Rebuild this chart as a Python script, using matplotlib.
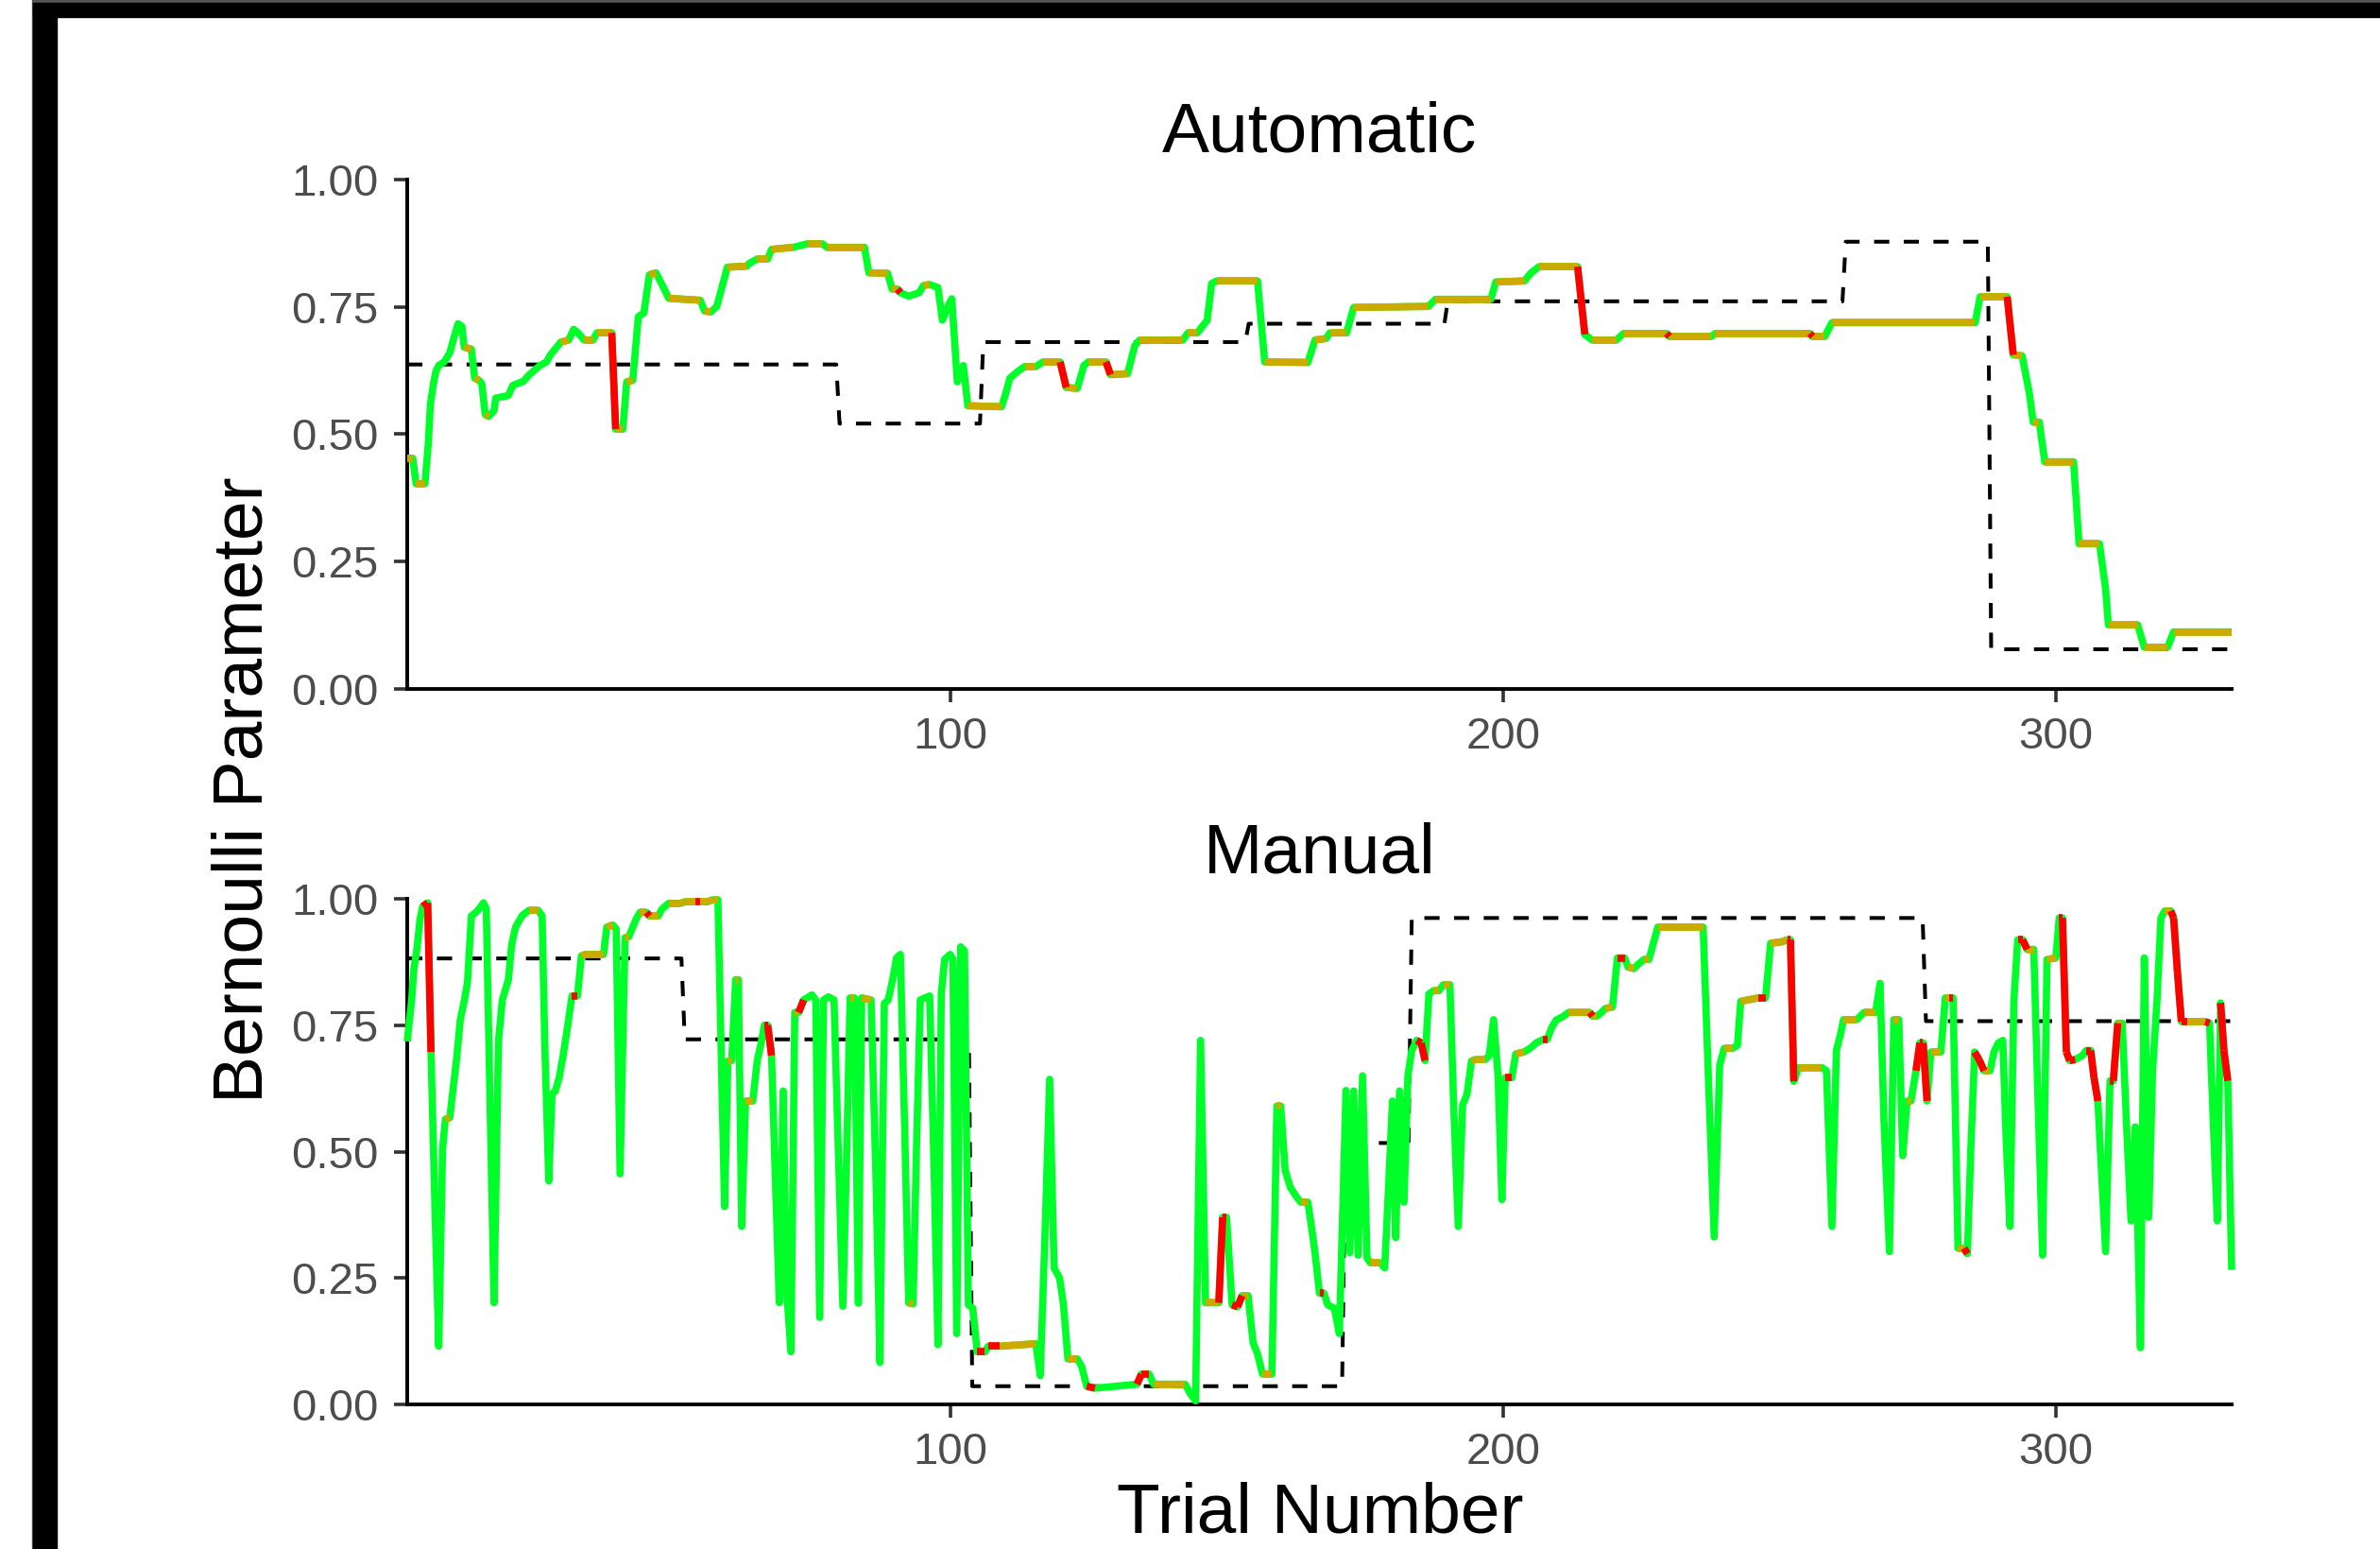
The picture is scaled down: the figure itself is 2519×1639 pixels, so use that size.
import matplotlib
matplotlib.use("Agg")
import matplotlib.pyplot as plt
import numpy as np
from matplotlib.collections import LineCollection
from matplotlib.patches import Rectangle

plt.rcParams['font.family'] = ['Liberation Sans', 'DejaVu Sans']

# running estimate of the Bernoulli parameter, (trial, value) knots
auto_estimate = [
    (1.8, 0.453), (2.8, 0.453), (3.4, 0.403), (5.0, 0.403), (5.6, 0.48), (6.0, 0.56),
    (6.6, 0.603), (7.0, 0.624), (7.5, 0.635), (8.5, 0.642), (9.5, 0.660), (10.2, 0.688),
    (11.0, 0.717), (11.7, 0.712), (12.1, 0.671), (13.4, 0.667), (14.0, 0.610), (14.8, 0.606),
    (15.3, 0.599), (15.9, 0.539), (16.5, 0.535), (17.5, 0.546), (17.8, 0.571), (20.1, 0.576),
    (20.9, 0.596), (22.8, 0.604), (23.9, 0.617), (25.8, 0.635), (27.0, 0.642), (27.7, 0.656),
    (29.6, 0.681), (31.0, 0.685), (31.9, 0.706), (32.7, 0.699), (33.8, 0.685), (35.4, 0.685),
    (36.1, 0.699), (38.8, 0.699), (39.5, 0.510), (40.8, 0.510), (41.5, 0.603), (42.6, 0.606),
    (43.6, 0.731), (44.6, 0.738), (45.6, 0.813), (46.8, 0.817), (48.3, 0.785), (49.1, 0.767),
    (54.8, 0.763), (55.6, 0.742), (56.7, 0.740), (57.8, 0.751), (59.7, 0.828), (63.2, 0.830),
    (63.6, 0.835), (65.1, 0.844), (67.0, 0.844), (67.7, 0.863), (71.6, 0.867), (74.2, 0.874),
    (76.9, 0.874), (77.7, 0.867), (84.5, 0.867), (85.3, 0.817), (88.7, 0.816), (89.5, 0.785),
    (90.5, 0.785), (91.0, 0.778), (92.5, 0.771), (94.4, 0.778), (95.2, 0.792), (96.3, 0.794),
    (97.8, 0.788), (98.6, 0.724), (99.8, 0.756), (100.3, 0.766), (101.3, 0.603), (102.4, 0.635),
    (103.2, 0.556), (109.3, 0.554), (110.0, 0.578), (110.8, 0.610), (112.3, 0.624), (113.5, 0.633),
    (115.5, 0.633), (116.8, 0.642), (119.9, 0.642), (121.0, 0.592), (123.0, 0.590), (124.2, 0.635),
    (125.0, 0.642), (128.2, 0.642), (129.0, 0.617), (132.1, 0.619), (133.4, 0.674), (134.3, 0.685),
    (142.1, 0.685), (143.0, 0.699), (144.7, 0.699), (145.5, 0.710), (146.5, 0.724), (147.3, 0.796),
    (148.2, 0.801), (155.6, 0.801), (156.9, 0.642), (164.7, 0.641), (166.0, 0.685), (168.0, 0.688),
    (168.7, 0.699), (171.7, 0.699), (173.0, 0.749), (186.5, 0.751), (187.8, 0.765), (197.8, 0.765),
    (198.7, 0.799), (203.9, 0.801), (205.0, 0.816), (206.5, 0.829), (213.5, 0.829), (214.8, 0.696),
    (216.1, 0.685), (220.5, 0.685), (221.8, 0.698), (229.6, 0.698), (230.1, 0.692), (237.7, 0.692),
    (238.4, 0.698), (255.5, 0.698), (256.0, 0.692), (258.2, 0.692), (259.5, 0.719), (285.4, 0.719),
    (286.3, 0.770), (291.2, 0.770), (292.3, 0.656), (293.9, 0.654), (295.2, 0.581), (295.9, 0.524),
    (297.0, 0.524), (298.0, 0.446), (303.2, 0.446), (304.2, 0.285), (307.9, 0.285), (309.0, 0.196),
    (309.5, 0.126), (314.8, 0.126), (316.0, 0.082), (320.2, 0.082), (321.3, 0.112), (331.8, 0.112),
]
# trials where a red stretch of the estimate starts
auto_red = [38.8, 90.5, 119.9, 128.2, 213.5, 229.6, 255.5, 291.2]
# generating parameter: first trial of each block and its level
auto_true_start = [1.8, 80, 106, 154, 190, 262, 288.3]
auto_true_level = [0.637, 0.521, 0.681, 0.717, 0.761, 0.878, 0.078]

manual_estimate = [
    (1.8, 0.718), (2.6, 0.80), (3.0, 0.86), (3.6, 0.905), (4.1, 0.959), (4.6, 0.985),
    (5.5, 0.992), (6.1, 0.697), (6.8, 0.395), (7.5, 0.115), (8.2, 0.506), (8.7, 0.564),
    (9.5, 0.567), (10.1, 0.625), (10.7, 0.68), (11.4, 0.761), (12.1, 0.797), (12.7, 0.835),
    (13.4, 0.966), (14.2, 0.973), (14.8, 0.98), (15.6, 0.992), (16.1, 0.98), (16.8, 0.585),
    (17.5, 0.201), (18.3, 0.718), (19.0, 0.80), (20.1, 0.84), (20.7, 0.91), (21.4, 0.944),
    (22.6, 0.967), (23.8, 0.977), (25.5, 0.977), (26.2, 0.966), (26.7, 0.704), (27.4, 0.442),
    (28.0, 0.614), (28.6, 0.62), (29.3, 0.647), (30.0, 0.69), (30.8, 0.747), (31.6, 0.808),
    (32.6, 0.808), (33.3, 0.887), (34.0, 0.89), (37.3, 0.89), (37.9, 0.944), (39.0, 0.948),
    (39.6, 0.94), (40.3, 0.456), (41.2, 0.923), (41.9, 0.925), (42.6, 0.944), (43.3, 0.962),
    (43.9, 0.973), (45.1, 0.973), (45.6, 0.966), (47.2, 0.966), (47.9, 0.98), (49.1, 0.991),
    (51.2, 0.991), (52.0, 0.994), (54.0, 0.994), (54.8, 0.994), (56.0, 0.994), (57.1, 0.998),
    (58.0, 0.998), (58.6, 0.689), (59.2, 0.391), (59.8, 0.679), (60.5, 0.680), (61.2, 0.84),
    (61.7, 0.84), (62.3, 0.352), (63.0, 0.60), (64.3, 0.60), (65.1, 0.679), (65.8, 0.714),
    (66.4, 0.75), (67.0, 0.75), (67.7, 0.69), (68.4, 0.442), (69.1, 0.201), (69.8, 0.62),
    (70.4, 0.23), (71.2, 0.104), (71.9, 0.775), (72.6, 0.775), (73.5, 0.80), (75.0, 0.81),
    (75.7, 0.80), (76.4, 0.172), (77.1, 0.80), (78.0, 0.806), (79.0, 0.80), (79.8, 0.492),
    (80.6, 0.194), (81.3, 0.499), (81.9, 0.804), (82.7, 0.804), (83.4, 0.20), (84.0, 0.804),
    (85.7, 0.80), (86.6, 0.442), (87.3, 0.083), (88.1, 0.793), (88.8, 0.80), (89.6, 0.84),
    (90.3, 0.883), (91.0, 0.89), (91.8, 0.535), (92.5, 0.201), (93.3, 0.199), (93.9, 0.499),
    (94.6, 0.80), (96.3, 0.808), (97.1, 0.463), (97.8, 0.118), (98.4, 0.812), (99.0, 0.88),
    (100.0, 0.89), (100.5, 0.88), (101.2, 0.14), (101.9, 0.905), (102.6, 0.897), (103.3, 0.197),
    (104.1, 0.19), (104.9, 0.104), (106.3, 0.104), (106.9, 0.115), (108.9, 0.115), (115.5, 0.12),
    (116.3, 0.057), (117.2, 0.352), (118.0, 0.643), (118.8, 0.27), (119.8, 0.25), (120.5, 0.197),
    (121.3, 0.09), (123.0, 0.09), (123.8, 0.075), (124.7, 0.036), (126.2, 0.032), (133.8, 0.04),
    (134.6, 0.06), (136.0, 0.06), (136.8, 0.04), (142.5, 0.04), (143.5, 0.02), (144.4, 0.007),
    (145.3, 0.72), (146.2, 0.201), (148.6, 0.201), (149.3, 0.37), (150.0, 0.37), (151.0, 0.197),
    (152.0, 0.193), (152.8, 0.215), (153.9, 0.215), (154.8, 0.122), (155.6, 0.10), (156.5, 0.06),
    (158.2, 0.06), (159.1, 0.59), (159.8, 0.59), (160.6, 0.463), (161.5, 0.43), (162.5, 0.413),
    (163.4, 0.40), (164.7, 0.40), (165.4, 0.348), (166.0, 0.30), (166.8, 0.22), (167.6, 0.22),
    (168.3, 0.197), (169.5, 0.19), (170.4, 0.14), (171.0, 0.384), (171.6, 0.621), (172.3, 0.30),
    (173.0, 0.62), (173.8, 0.295), (174.6, 0.65), (175.4, 0.29), (176.0, 0.28), (177.8, 0.28),
    (178.6, 0.27), (179.3, 0.43), (180.0, 0.60), (180.6, 0.33), (181.3, 0.62), (182.1, 0.40),
    (182.8, 0.65), (183.5, 0.70), (184.4, 0.72), (185.2, 0.715), (185.9, 0.68), (186.6, 0.812),
    (187.4, 0.818), (188.4, 0.818), (189.2, 0.83), (190.4, 0.83), (191.1, 0.585), (191.9, 0.352),
    (192.7, 0.592), (193.5, 0.614), (194.3, 0.679), (195.0, 0.682), (196.8, 0.682), (197.5, 0.690),
    (198.3, 0.761), (199.1, 0.65), (199.8, 0.405), (200.4, 0.646), (201.6, 0.646), (202.3, 0.693),
    (203.8, 0.697), (205.0, 0.705), (206.0, 0.715), (207.3, 0.722), (208.0, 0.722), (208.8, 0.745),
    (209.6, 0.76), (211.0, 0.768), (211.8, 0.775), (215.7, 0.775), (216.2, 0.768), (217.0, 0.768),
    (217.8, 0.775), (218.5, 0.783), (219.8, 0.786), (220.7, 0.883), (222.0, 0.883), (222.6, 0.865),
    (223.7, 0.862), (224.4, 0.87), (225.5, 0.88), (226.4, 0.88), (227.2, 0.912), (228.0, 0.944),
    (236.2, 0.944), (237.2, 0.632), (238.2, 0.331), (239.2, 0.671), (240.0, 0.704), (241.5, 0.704),
    (242.4, 0.71), (243.0, 0.797), (244.3, 0.80), (246.2, 0.804), (246.8, 0.804), (247.5, 0.804),
    (248.4, 0.912), (250.5, 0.915), (251.4, 0.919), (252.0, 0.919), (252.6, 0.639), (253.5, 0.666),
    (257.7, 0.666), (258.5, 0.66), (259.5, 0.352), (260.3, 0.70), (261.0, 0.73), (261.6, 0.761),
    (264.0, 0.761), (265.3, 0.775), (267.4, 0.775), (268.2, 0.833), (268.9, 0.564), (269.9, 0.302),
    (270.7, 0.761), (271.6, 0.761), (272.3, 0.492), (273.1, 0.60), (273.8, 0.60), (274.7, 0.66),
    (275.4, 0.715), (276.0, 0.715), (276.7, 0.60), (277.4, 0.697), (279.2, 0.697), (280.0, 0.804),
    (280.7, 0.804), (281.4, 0.804), (282.3, 0.309), (283.4, 0.309), (284.0, 0.298), (284.6, 0.499),
    (285.3, 0.697), (286.2, 0.68), (287.0, 0.66), (288.1, 0.66), (288.8, 0.697), (289.6, 0.715),
    (290.4, 0.72), (291.0, 0.528), (291.7, 0.352), (292.4, 0.797), (293.1, 0.919), (294.0, 0.919),
    (294.8, 0.90), (296.0, 0.90), (296.8, 0.592), (297.6, 0.295), (298.4, 0.88), (300.0, 0.883),
    (300.6, 0.962), (301.2, 0.962), (301.9, 0.697), (302.5, 0.68), (303.5, 0.682), (304.8, 0.69),
    (305.5, 0.70), (306.3, 0.70), (306.9, 0.646), (307.6, 0.60), (308.3, 0.45), (309.0, 0.302),
    (309.8, 0.64), (310.4, 0.64), (311.2, 0.754), (312.0, 0.754), (312.8, 0.549), (313.6, 0.363),
    (314.4, 0.549), (315.3, 0.112), (316.0, 0.883), (316.8, 0.37), (317.5, 0.66), (318.3, 0.80),
    (319.0, 0.962), (319.7, 0.976), (320.8, 0.976), (321.3, 0.962), (322.0, 0.854), (322.7, 0.757),
    (323.8, 0.757), (325.0, 0.757), (326.0, 0.757), (327.0, 0.757), (327.8, 0.754), (328.5, 0.549),
    (329.2, 0.363), (329.8, 0.794), (330.4, 0.70), (331.1, 0.64), (331.8, 0.266),
]
manual_red = [4.6, 5.5, 31.6, 45.1, 54.0, 66.4, 67.0, 72.6, 104.9, 106.9, 124.7, 133.8,
              134.6, 148.6, 149.3, 151.0, 152.0, 166.8, 184.4, 185.2, 200.4, 207.3, 215.7,
              220.7, 246.2, 246.8, 251.4, 252.0, 274.7, 275.4, 276.0, 280.7, 283.4, 285.3,
              286.2, 293.1, 294.0, 300.6, 301.2, 301.9, 302.5, 305.5, 306.3, 306.9, 309.8,
              310.4, 320.8, 321.3, 322.0, 322.7, 327.0, 329.8, 330.4]
manual_true_start = [1.8, 52, 104, 171.5, 183.5, 276.5]
manual_true_level = [0.882, 0.722, 0.036, 0.517, 0.962, 0.758]

panel_titles = ["Automatic", "Manual"]
x_ticks = [100, 200, 300]
y_ticks = [0.00, 0.25, 0.50, 0.75, 1.00]
trial_range = (1.8, 331.8)

GREEN = "#00FF2A"
GOLD = "#CCAA00"
RED = "#FF0000"
LW = 5.5


def true_path(starts, levels, end):
    xs, ys = [], []
    ends = list(starts[1:]) + [end]
    for i, (s, e, lv) in enumerate(zip(starts, ends, levels)):
        xs += [s, e if i == len(levels) - 1 else e - 0.6]
        ys += [lv, lv]
    return xs, ys


def draw_panel(ax, estimate, red, true_start, true_level, title, top):
    t, v = map(np.asarray, zip(*estimate))

    tx, ty = true_path(true_start, true_level, trial_range[1])
    ax.plot(tx, ty, color="black", lw=2.9, linestyle=(0, (4.0, 3.8)), zorder=2)

    ax.plot(t, v, color=GREEN, lw=LW, solid_joinstyle="round",
            solid_capstyle="butt", clip_on=False, zorder=3)
    segs = np.stack([np.column_stack([t[:-1], v[:-1]]),
                     np.column_stack([t[1:], v[1:]])], axis=1)
    is_red = np.isin(np.round(t[:-1], 1), np.round(red, 1))
    flat = (np.abs(np.diff(v)) <= 0.005) & ~is_red
    ax.add_collection(LineCollection(segs[flat], colors=GOLD, linewidths=LW,
                                     capstyle="butt", zorder=4, clip_on=False))
    ax.add_collection(LineCollection(segs[is_red], colors=RED, linewidths=LW,
                                     capstyle="butt", zorder=5, clip_on=False))

    ax.set_xlim(*trial_range)
    ax.set_ylim(0, 1)
    ax.set_xticks(x_ticks)
    ax.set_xticklabels([str(x) for x in x_ticks])
    ax.set_yticks(y_ticks)
    ax.set_yticklabels(["%.2f" % y for y in y_ticks])
    for side in ("top", "right"):
        ax.spines[side].set_visible(False)
    for side in ("left", "bottom"):
        ax.spines[side].set_linewidth(2.8)
        ax.spines[side].set_color("black")
    ax.tick_params(axis="both", length=10, width=2.6, color="#333333",
                   labelsize=34, labelcolor="#4D4D4D", pad=12)
    ax.tick_params(axis="x", pad=11)
    ax.text(0.5, top, title, transform=ax.transAxes, ha="center", va="baseline",
            fontsize=54, color="black")


fig = plt.figure(figsize=(25.19, 16.39), dpi=100)
W, H = 2519.0, 1639.0

ax_top = fig.add_axes([431 / W, 1 - 729 / H, (2362 - 431) / W, (729 - 190) / H])
ax_bot = fig.add_axes([431 / W, 1 - 1486 / H, (2362 - 431) / W, (1486 - 951) / H])

draw_panel(ax_top, auto_estimate, auto_red, auto_true_start, auto_true_level,
           panel_titles[0], 1 + 29 / 539)
draw_panel(ax_bot, manual_estimate, manual_red, manual_true_start, manual_true_level,
           panel_titles[1], 1 + 27 / 535)

fig.text(1397 / W, 2 / H, "Trial Number", ha="center", va="bottom", fontsize=54)
fig.text(258 / W, 1 - 836 / H, "Bernoulli Parameter", ha="center", va="center",
         rotation=90, fontsize=54)

# black frame along the top and left edge
fig.patches.append(Rectangle((34 / W, 0), 1 / W, 1, transform=fig.transFigure,
                             color="#555555", zorder=10))
fig.patches.append(Rectangle((35 / W, 0), 25 / W, 1, transform=fig.transFigure,
                             color="black", zorder=10))
fig.patches.append(Rectangle((35 / W, 1 - 3 / H), 1, 3 / H, transform=fig.transFigure,
                             color="#555555", zorder=10))
fig.patches.append(Rectangle((35 / W, 1 - 18 / H), 1, 15 / H, transform=fig.transFigure,
                             color="black", zorder=10))

fig.savefig("out.png", dpi=100)
